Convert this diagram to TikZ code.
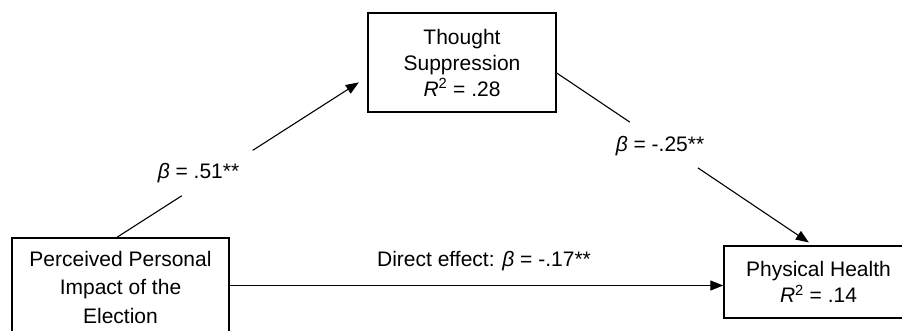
\documentclass[tikz,border=0pt]{standalone}
\usepackage{fontspec}
\setmainfont{Liberation Sans}
\usetikzlibrary{arrows.meta,calc}
\begin{document}
\begin{tikzpicture}[x=1pt,y=-1pt,
  box/.style={draw, line width=1.5pt, align=center, inner sep=0pt},
  ln/.style={line width=1.1pt},
  arr/.style={line width=1.1pt, -{Triangle[length=13pt,width=10pt]}},
  lbl/.style={inner sep=0pt, anchor=base, font=\fontsize{21}{26}\selectfont}]
\useasboundingbox (0,0) rectangle (902,331);
\node[box, minimum width=217pt, minimum height=98pt, font=\fontsize{21}{28.5}\selectfont] (lb) at (120.5,287) {Perceived Personal\\Impact of the\\Election};
\node[box, minimum width=188pt, minimum height=99pt, font=\fontsize{21}{26}\selectfont] (ts) at (462,62.5) {Thought\\Suppression\\\textit{R}\textsuperscript{2} = .28};
\node[box, minimum width=189pt, minimum height=72pt, font=\fontsize{21}{26}\selectfont] (ph) at (818.5,282) {Physical Health\\\textit{R}\textsuperscript{2} = .14};
% arrow 1
\coordinate (a1s) at ($(lb.north)+(-3.5,0)$);
\coordinate (a1e) at ($(ts.west)+(0,14.5)$);
\draw[ln] (a1s) -- ($(a1s)!0.259!(a1e)$);
\draw[arr, shorten >=10pt] ($(a1s)!0.542!(a1e)$) -- (a1e);
\node[lbl] (l1) at (198.5,179) {\textit{β} = .51**};
% arrow 2
\coordinate (a2s) at ($(ts.east)+(0,10.5)$);
\coordinate (a2e) at ($(ph.north)+(-5.5,0)$);
\draw[ln] (a2s) -- ($(a2s)!0.285!(a2e)$);
\draw[arr, shorten >=5pt] ($(a2s)!0.551!(a2e)$) -- (a2e);
\node[lbl] (l2) at (660,152) {\textit{β} = -.25**};
% direct
\draw[arr] ($(lb.east)+(0,-1.5)$) -- ($(ph.west |- lb.east)+(0,-1.5)$);
\node[lbl] (l3) at (484,266) {Direct effect: \textit{β} = -.17**};
\end{tikzpicture}
\end{document}
